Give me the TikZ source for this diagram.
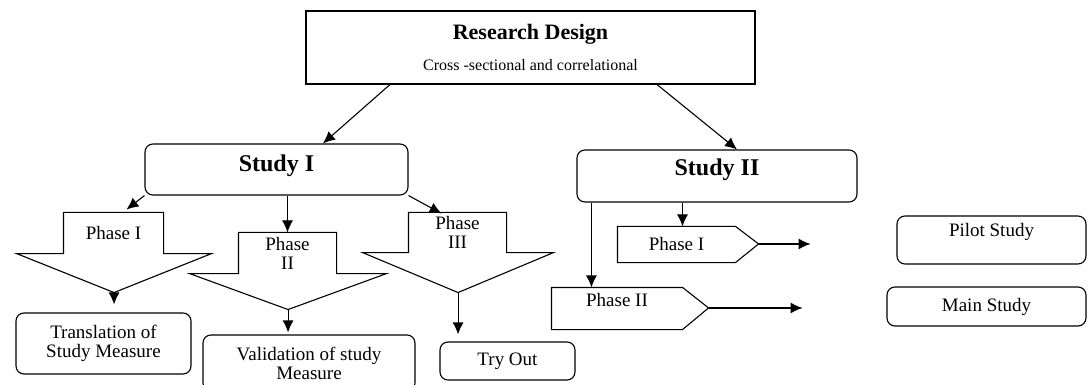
\documentclass[tikz,border=0pt]{standalone}
\usepackage{fontspec}
\setmainfont{Liberation Serif}
\usetikzlibrary{arrows.meta}
\tikzstyle{block} = [draw, rectangle, line width=1.1pt, inner sep=0pt, align=center]
\tikzstyle{rblock} = [block, rounded corners=8pt]
\tikzstyle{shaft} = [rectangle, inner sep=0pt, align=center]
\tikzstyle{head} = [font=\fontsize{24}{24}\selectfont\bfseries]

\begin{document}
\begin{tikzpicture}[x=1pt, y=-1pt, >={Latex[length=12pt,width=11pt]}, line width=1.1pt,
    font=\fontsize{19}{19}\selectfont]
    \useasboundingbox (0,0) rectangle (1088,385);
    % Drawing blocks
    \node [block, minimum width=449pt, minimum height=73pt] (design) at (530.5,47.5)
        {{\fontsize{22}{22}\selectfont\bfseries Research Design}\\[12pt]
         {\fontsize{16}{16}\selectfont Cross -sectional and correlational}};
    \node [rblock, head, minimum width=263pt, minimum height=51pt, text depth=12pt] (study1) at (276.5,169.5) {Study I};
    \node [rblock, head, minimum width=280pt, minimum height=52pt, text depth=17pt] (study2) at (717,176) {Study II};

    % Study I phases
    \node [shaft, minimum width=99pt, minimum height=40pt] (p1) at (113.5,233) {Phase I};
    \draw (p1.north west) -- (p1.north east) -- (p1.south east) -- ++(48,0)
        -- ++(-97.5,39) coordinate (p1tip) -- ++(-97.5,-39) -- (p1.south west) -- cycle;
    \node [shaft, minimum width=97pt, minimum height=40pt] (p2) at (287.5,253) {Phase\\II};
    \draw (p2.north west) -- (p2.north east) -- (p2.south east) -- ++(50,0)
        -- ++(-98.5,36) coordinate (p2tip) -- ++(-98.5,-36) -- (p2.south west) -- cycle;
    \node [shaft, minimum width=97pt, minimum height=39pt] (p3) at (457.5,232.5) {Phase\\III};
    \draw (p3.north west) -- (p3.north east) -- (p3.south east) -- ++(47,0)
        -- ++(-95.5,40) coordinate (p3tip) -- ++(-95.5,-40) -- (p3.south west) -- cycle;

    \node [rblock, minimum width=175pt, minimum height=61pt] (trans) at (103.5,343.5) {Translation of\\Study Measure};
    \node [rblock, minimum width=212pt, minimum height=56pt] (valid) at (309,363) {Validation of study\\Measure};
    \node [rblock, minimum width=135pt, minimum height=38pt] (tryout) at (507.5,361) {Try Out};

    % Study II phases
    \node [shaft, minimum width=117pt, minimum height=35pt] (s2p1) at (676.5,244.5) {Phase I};
    \draw (s2p1.north west) -- (s2p1.north east) -- ++(23,17.5) coordinate (s2p1tip)
        -- (s2p1.south east) -- (s2p1.south west) -- cycle;
    \node [shaft, minimum width=130pt, minimum height=41pt, text depth=17pt] (s2p2) at (617,308.5) {Phase II};
    \draw (s2p2.north west) -- (s2p2.north east) -- ++(26,20.5) coordinate (s2p2tip)
        -- (s2p2.south east) -- (s2p2.south west) -- cycle;
    \node [rblock, minimum width=189pt, minimum height=48pt, text depth=20pt] (pilot) at (991.5,240) {Pilot Study};
    \node [rblock, minimum width=199pt, minimum height=39pt] (main) at (986.5,306.5) {Main Study};

    % Connectors
    \draw [->] ([xshift=-140.5pt]design.south) -- ([xshift=46.5pt]study1.north);
    \draw [->] ([xshift=126.5pt]design.south) -- ([xshift=20pt]study2.north);
    \draw [->] (study1.south west) -- ++(-18,14);
    \draw [->] (p2.north |- study1.south) -- (p2.north);
    \draw [->] (study1.south east) -- ++(33,18);
    \draw [->, shorten >=8pt] (p1tip) -- (p1tip |- trans.north);
    \draw [->, shorten >=2pt] (p2tip) -- (p2tip |- valid.north);
    \draw [->, shorten >=7pt] (p3tip) -- (p3tip |- tryout.north);
    \coordinate (s2left) at ([xshift=15pt]study2.south west);
    \coordinate (s2mid) at ([xshift=6pt]s2p1.north);
    \draw [->] (s2left) -- (s2left |- s2p2.north);
    \draw [->] (s2mid |- study2.south) -- (s2mid);
    \draw [->] (s2p1tip) -- ++(52,0);
    \draw [->] (s2p2tip) -- ++(94,0);
\end{tikzpicture}
\end{document}
